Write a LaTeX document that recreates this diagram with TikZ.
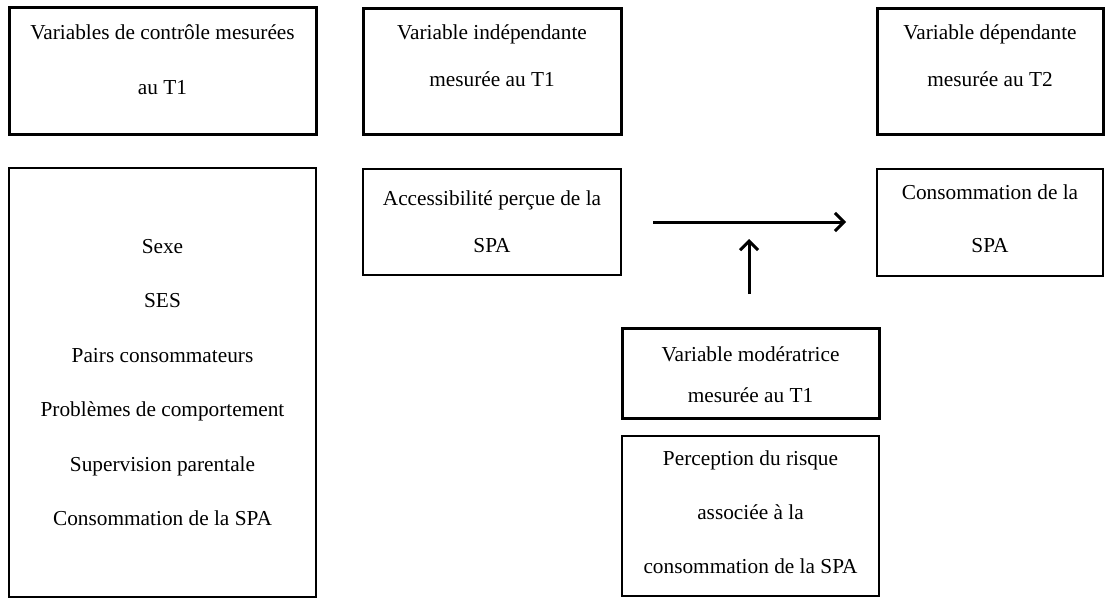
\documentclass[tikz,border=0pt]{standalone}
\usepackage{fontspec}
\setmainfont{Liberation Serif}
\usetikzlibrary{arrows.meta}
\tikzset{
  hbox/.style={draw=black, line width=3pt, minimum width=#1, inner sep=0pt},
  lbox/.style={draw=black, line width=1.3pt, minimum width=#1, inner sep=0pt},
  lbl/.style={anchor=base, inner sep=0pt, font=\fontsize{21.3}{25}\selectfont},
  arr/.style={line width=3pt, -{Straight Barb[length=9pt,width=18pt,line width=3pt]}}
}
\begin{document}
\begin{tikzpicture}[x=1pt,y=-1pt]
\useasboundingbox (0,0) rectangle (1111,603);
% header boxes
\node[hbox=307pt, minimum height=127pt] (h1) at (162.5,70.5) {};
\node[hbox=258pt, minimum height=126pt] (h2) at (492,71) {};
\node[hbox=226pt, minimum height=126pt] (h3) at (990,71) {};
% content boxes
\node[lbox=307pt, minimum height=429pt] (b1) at (162.5,382.5) {};
\node[lbox=258pt, minimum height=106pt] (b2) at (492,222) {};
\node[lbox=226pt, minimum height=107pt] (b3) at (990,222.5) {};
\node[hbox=257pt, minimum height=90pt] (m1) at (750.5,373) {};
\node[lbox=257pt, minimum height=160pt] (m2) at (750.5,516) {};
% texts
\node[lbl] (t1a) at (162.5,39) {Variables de contrôle mesurées};
\node[lbl] (t1b) at (162.5,94) {au T1};
\node[lbl] (t2a) at (492,39) {Variable indépendante};
\node[lbl] (t2b) at (492,86) {mesurée au T1};
\node[lbl] (t3a) at (990,39) {Variable dépendante};
\node[lbl] (t3b) at (990,86) {mesurée au T2};
\node[lbl] (s1) at (162.5,253) {Sexe};
\node[lbl] (s2) at (162.5,307.5) {SES};
\node[lbl] (s3) at (162.5,362) {Pairs consommateurs};
\node[lbl] (s4) at (162.5,416.5) {Problèmes de comportement};
\node[lbl] (s5) at (162.5,471) {Supervision parentale};
\node[lbl] (s6) at (162.5,525.5) {Consommation de la SPA};
\node[lbl] (a1) at (492,205) {Accessibilité perçue de la};
\node[lbl] (a2) at (492,252) {SPA};
\node[lbl] (c1) at (990,199) {Consommation de la};
\node[lbl] (c2) at (990,252) {SPA};
\node[lbl] (v1) at (750.5,361) {Variable modératrice};
\node[lbl] (v2) at (750.5,402) {mesurée au T1};
\node[lbl] (p1) at (750.5,465) {Perception du risque};
\node[lbl] (p2) at (750.5,519) {associée à la};
\node[lbl] (p3) at (750.5,573) {consommation de la SPA};
% arrows
\coordinate (hs) at (653,222);
\coordinate (he) at (846,222);
\coordinate (vs) at (749,294);
\coordinate (ve) at (749,239);
\draw[arr] (hs) -- (he);
\draw[arr] (vs) -- (ve);
\end{tikzpicture}
\end{document}
